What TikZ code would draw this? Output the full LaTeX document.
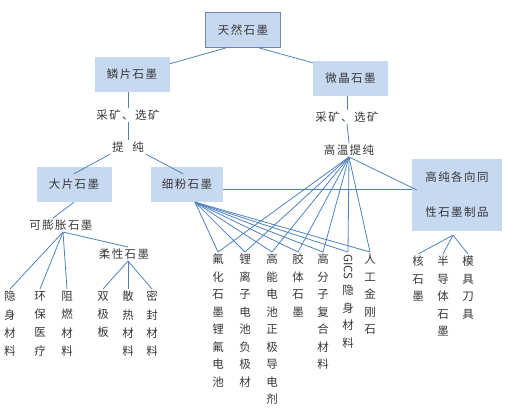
\documentclass[tikz,border=0pt]{standalone}
\usepackage{fontspec}
\usepackage{graphicx}
\newfontfamily\cjk{Noto Sans CJK SC}
\newfontfamily\cjkls{Noto Sans CJK SC}[LetterSpace=12]

\definecolor{boxblue}{RGB}{198,217,241}
\definecolor{boxedge}{RGB}{110,135,170}
\definecolor{linkblue}{RGB}{79,129,189}
\definecolor{txt}{RGB}{55,55,55}

\begin{document}
\begin{tikzpicture}[x=1pt,y=-1pt,
  box/.style={fill=boxblue, minimum width=75pt, minimum height=35pt, inner sep=0pt,
    font=\cjkls\fontsize{11.5}{13}\selectfont, text=txt},
  lab/.style={font=\cjkls\fontsize{11.5}{13}\selectfont, text=txt, inner sep=1.5pt},
  vlab/.style={font=\cjk\fontsize{11.5}{17.5}\selectfont, text=txt, align=center,
    anchor=north, inner sep=2pt},
  link/.style={draw=linkblue, line width=0.8pt}]

  \useasboundingbox (0,0) rectangle (519,410);

  % Boxes
  \node[box, draw=boxedge, line width=0.8pt] (trsm) at (243,30) {天然石墨};
  \node[box] (lpsm) at (132,74.5) {鳞片石墨};
  \node[box] (wjsm) at (350.5,78.5) {微晶石墨};
  \node[box] (dpsm) at (74,184.5) {大片石墨};
  \node[box, minimum width=72pt] (xfsm) at (187,184.5) {细粉石墨};
  \node[box, minimum width=90pt, minimum height=72pt, align=center,
    font=\cjkls\fontsize{11.5}{35}\selectfont] (gcsm) at (457,195) {高纯各向同\\性石墨制品};

  % Process labels
  \node[lab] (lcx) at (128,115) {采矿、选矿};
  \node[lab] (ltc) at (128,147) {提\hspace{9pt}纯};
  \node[lab] (rcx) at (347,117) {采矿、选矿};
  \node[lab] (gwtc) at (349,150) {高温提纯};
  \node[lab] (kpz) at (61,225) {可膨胀石墨};
  \node[lab] (rxsm) at (124,254) {柔性石墨};

  % Products (vertical text)
  \node[vlab, font=\cjk\fontsize{11.5}{18.3}\selectfont] (yscl) at (10,289) {隐\\身\\材\\料};
  \node[vlab, font=\cjk\fontsize{11.5}{18.3}\selectfont] (hbyl) at (40,289) {环\\保\\医\\疗};
  \node[vlab, font=\cjk\fontsize{11.5}{18.3}\selectfont] (zrcl) at (67,289) {阻\\燃\\材\\料};
  \node[vlab, font=\cjk\fontsize{11.5}{18.3}\selectfont] (sjb) at (103,289) {双\\极\\板};
  \node[vlab, font=\cjk\fontsize{11.5}{18.3}\selectfont] (srcl) at (128,289) {散\\热\\材\\料};
  \node[vlab, font=\cjk\fontsize{11.5}{18.3}\selectfont] (mfcl) at (152,289) {密\\封\\材\\料};

  \node[vlab] (fhsm) at (218,252) {氟\\化\\石\\墨\\锂\\氟\\电\\池};
  \node[vlab] (llzd) at (245,252) {锂\\离\\子\\电\\池\\负\\极\\材};
  \node[vlab] (gndj) at (272,252) {高\\能\\电\\池\\正\\极\\导\\电\\剂};
  \node[vlab] (jtsm) at (298,252) {胶\\体\\石\\墨};
  \node[vlab] (gfzc) at (323,252) {高\\分\\子\\复\\合\\材\\料};
  \node[vlab] (gics) at (348,252) {\rotatebox[origin=c]{-90}{GICS}\\[5pt]隐\\身\\材\\料};
  \node[vlab] (rgjg) at (370,252) {人\\工\\金\\刚\\石};

  \node[vlab] (hsm) at (418,254) {核\\石\\墨};
  \node[vlab] (bdt) at (443,254) {半\\导\\体\\石\\墨};
  \node[vlab] (mjdj) at (468,254) {模\\具\\刀\\具};

  % Top links
  \draw[link] ([xshift=-17pt]trsm.south) -- ([yshift=-7pt]lpsm.north east);
  \draw[link] ([xshift=16pt]trsm.south) -- ([yshift=-2pt]wjsm.north west);
  \draw[link] (lcx.north |- lpsm.south) -- (lcx.north);
  \draw[link] (lcx.south) -- (ltc.north);
  \draw[link] (rcx.north |- wjsm.south) -- (rcx.north);
  \draw[link] (rcx.south) -- (gwtc.north);

  % Flake branch
  \draw[link] (ltc.south west) -- ([yshift=-7pt]dpsm.north);
  \draw[link] (ltc.south east) -- ([shift={(-4pt,-7pt)}]xfsm.north);
  \draw[link] (dpsm.south) -- ([xshift=-8pt]kpz.north);
  \foreach \t in {yscl,hbyl,zrcl}
    \draw[link] ([xshift=2pt]kpz.south) -- (\t.north);
  \draw[link] ([xshift=2pt]kpz.south) -- ([xshift=4pt]rxsm.north);
  \foreach \t in {sjb,srcl,mfcl}
    \draw[link] ([xshift=4pt]rxsm.south) -- (\t.north);

  % Fine powder and purified fans
  \foreach \t in {fhsm,llzd,gndj,jtsm,gfzc,gics,rgjg} {
    \draw[link] ([xshift=8pt]xfsm.south) -- (\t.north);
    \draw[link] (gwtc.south) -- (\t.north);
  }
  \draw[link] ([yshift=-5pt]xfsm.east) -- ([yshift=-5pt]xfsm.east -| gcsm.west);
  \draw[link] (gwtc.south) -- ([shift={(5pt,5pt)}]gcsm.west);
  \foreach \t in {hsm,bdt,mjdj}
    \draw[link] ([shift={(-4pt,-4pt)}]gcsm.south) -- (\t.north);

\end{tikzpicture}
\end{document}
